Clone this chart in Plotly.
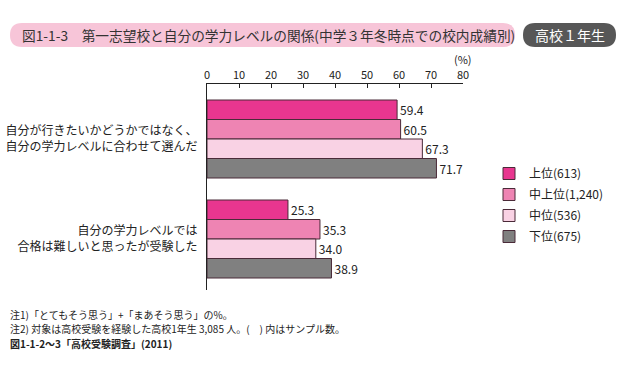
import plotly.graph_objects as go

categories = ["自分が行きたいかどうかではなく、<br>自分の学力レベルに合わせて選んだ",
              "自分の学力レベルでは<br>合格は難しいと思ったが受験した"]
series_names = ["上位(613)", "中上位(1,240)", "中位(536)", "下位(675)"]
values_upper = [59.4, 25.3]
values_midupper = [60.5, 35.3]
values_mid = [67.3, 34.0]
values_lower = [71.7, 38.9]
x_ticks = [0, 10, 20, 30, 40, 50, 60, 70, 80]
notes = ["注1)「とてもそう思う」+「まあそう思う」の%。",
         "注2) 対象は高校受験を経験した高校1年生 3,085 人。(　) 内はサンプル数。",
         "<b>図1-1-2～3「高校受験調査」(2011)</b>"]

series_values = [values_upper, values_midupper, values_mid, values_lower]
colors = ["#e8368f", "#ee84b3", "#f9d2e4", "#808080"]

W, H = 640, 368
L, R, T, B = 207, 463, 84, 290
FONT = "Noto Sans CJK JP"

def px(x):
    return (x - L) / (R - L)

def py(y):
    return (B - y) / (B - T)

fig = go.Figure()
for i, (name, vals) in enumerate(zip(series_names, series_values)):
    fig.add_trace(go.Bar(
        y=categories, x=vals, name=name, orientation="h",
        marker=dict(color=colors[i], line=dict(color="#4a2a38", width=1)),
        text=[f"{v:.1f}" for v in vals], textposition="outside",
        textfont=dict(size=12, color="#222222", family=FONT),
        cliponaxis=False, legendgroup=f"g{i}",
    ))

def rounded_rect(x0, y0, x1, y1, r):
    def P(x, y):
        return f"{px(x):.5f},{py(y):.5f}"
    path = (f"M {P(x0 + r, y0)} L {P(x1 - r, y0)} Q {P(x1, y0)} {P(x1, y0 + r)} "
            f"L {P(x1, y1 - r)} Q {P(x1, y1)} {P(x1 - r, y1)} "
            f"L {P(x0 + r, y1)} Q {P(x0, y1)} {P(x0, y1 - r)} "
            f"L {P(x0, y0 + r)} Q {P(x0, y0)} {P(x0 + r, y0)} Z")
    return path

shapes = [
    dict(type="path", xref="paper", yref="paper", path=rounded_rect(10, 23, 515, 47, 12),
         fillcolor="#f7c5d8", line=dict(width=0), layer="below"),
    dict(type="path", xref="paper", yref="paper", path=rounded_rect(523, 23, 616, 47, 12),
         fillcolor="#575757", line=dict(width=0), layer="below"),
]

annotations = [
    dict(text="図1-1-3　第一志望校と自分の学力レベルの関係(中学３年冬時点での校内成績別)",
         x=px(20), y=py(35), xref="paper", yref="paper", xanchor="left", yanchor="middle",
         showarrow=False, font=dict(size=13.7, color="#333333", family=FONT)),
    dict(text="高校１年生", x=px(569.5), y=py(35), xref="paper", yref="paper",
         xanchor="center", yanchor="middle", showarrow=False,
         font=dict(size=14, color="#ffffff", family=FONT)),
    dict(text="(%)", x=px(463), y=py(59), xref="paper", yref="paper",
         xanchor="center", yanchor="middle", showarrow=False,
         font=dict(size=11, color="#222222", family=FONT)),
]
for note, ny in zip(notes, [314, 328.5, 343]):
    annotations.append(dict(text=note, x=px(9), y=py(ny), xref="paper", yref="paper",
                            xanchor="left", yanchor="middle", showarrow=False, borderpad=0,
                            font=dict(size=10, color="#222222", family=FONT)))

fig.update_layout(
    width=W, height=H,
    margin=dict(l=L, r=W - R, t=T, b=H - B, autoexpand=False),
    paper_bgcolor="white", plot_bgcolor="white",
    barmode="group", bargap=0.22, bargroupgap=0,
    showlegend=True,
    legend=dict(x=px(489), y=py(159), xanchor="left", yanchor="top",
                traceorder="grouped", tracegroupgap=2,
                font=dict(size=12, color="#222222", family=FONT),
                itemwidth=30, bgcolor="rgba(0,0,0,0)"),
    xaxis=dict(range=[0, 80], side="top", tickvals=x_ticks, ticks="inside",
               ticklen=4, tickcolor="#222222", showline=True, linecolor="#222222",
               linewidth=1, showgrid=False, zeroline=False, fixedrange=True,
               automargin=False,
               tickfont=dict(size=11, color="#222222", family=FONT)),
    yaxis=dict(type="category", range=[1.51, -0.55], showline=True, automargin=False,
               linecolor="#222222", linewidth=1, ticks="", showgrid=False,
               ticklabelstandoff=6, tickfont=dict(size=12, color="#222222", family=FONT)),
    shapes=shapes, annotations=annotations,
)

fig.write_html("out.html", config={"displayModeBar": False},
               post_script="document.body.style.margin='0';")
